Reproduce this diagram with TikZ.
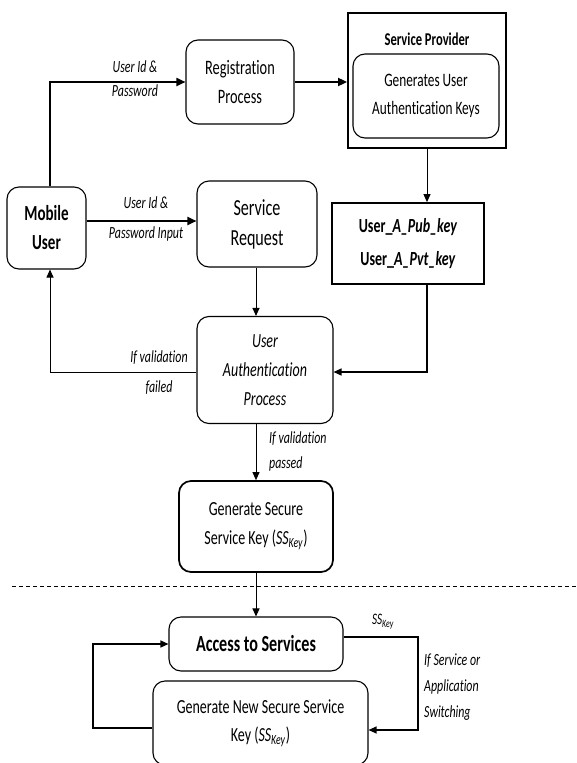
\documentclass[tikz,border=0pt]{standalone}
\usepackage{fontspec}
\setmainfont{Carlito}[FakeStretch=0.7, Ligatures=NoCommon]
\usetikzlibrary{arrows.meta}

\tikzset{
  box/.style={draw, rounded corners=12pt, line width=1.1pt, align=center, inner sep=0pt},
  sqbox/.style={draw, line width=1.8pt, align=center, inner sep=0pt},
  link/.style={line width=1pt, -{Triangle[length=8pt,width=7pt]}},
  thicklink/.style={line width=1.8pt, -{Triangle[length=9pt,width=8pt]}},
  lbl/.style={align=center, inner sep=0pt},
  divider/.style={line width=0.8pt, dash pattern=on 4pt off 3pt},
}
\newcommand{\fsz}[2]{\fontsize{#1}{#2}\selectfont}
\newcommand{\sskey}{\textit{SS}\textsubscript{\textit{Key}}}

\begin{document}
\begin{tikzpicture}[x=1pt,y=-1pt]
\useasboundingbox (0,0) rectangle (576,763);
\fill[white] (0,0) rectangle (576,763);
\clip (0,0) rectangle (576,763);

% boxes
\node[box, minimum width=108pt, minimum height=84pt, font=\fsz{20.5}{29}] (reg) at (240,82) {Registration\\Process};
\node[sqbox, minimum width=158pt, minimum height=135pt] (sp) at (427,80.5) {};
\node[font=\bfseries\fsz{18}{22}] (sptitle) at (427,39) {Service Provider};
\node[box, minimum width=146pt, minimum height=84pt, font=\fsz{19}{28}] (gen) at (426,96) {Generates User\\Authentication Keys};
\node[box, minimum width=79pt, minimum height=82pt, font=\bfseries\fsz{21.5}{29}] (mu) at (46.5,228) {Mobile\\User};
\node[box, minimum width=120pt, minimum height=86pt, font=\fsz{23}{30}] (sr) at (257,224) {Service\\Request};
\node[sqbox, minimum width=152pt, minimum height=81pt, font=\bfseries\fsz{20}{33}] (keys) at (408,243.5) {User\_\textit{A\_Pub\_key}\\User\_\textit{A\_Pvt\_key}};
\node[box, minimum width=136pt, minimum height=107pt, font=\itshape\fsz{20}{29}] (ua) at (265,370) {User\\Authentication\\Process};
\node[box, line width=1.7pt, minimum width=154pt, minimum height=91pt, font=\fsz{20}{29}] (gs) at (256,526.5) {Generate Secure\\Service Key (\sskey)};
\node[box, minimum width=174pt, minimum height=54pt, font=\bfseries\fsz{23}{28}] (acc) at (256,644) {Access to Services};
\node[box, minimum width=215pt, minimum height=84pt, font=\fsz{20}{28}] (gn) at (260.5,723) {Generate New Secure Service\\Key (\sskey)};

% helper coordinates for connector lanes
\coordinate (cx) at (256,0);
\coordinate (lx) at (50,0);
\coordinate (ya) at (0,221);
\coordinate (yk) at (0,372);
\coordinate (xr) at (418,0);
\coordinate (yr) at (0,637);
\coordinate (yg) at (0,730);
\coordinate (xl) at (93,0);
\coordinate (yl) at (0,728);
\coordinate (yb) at (0,644);

% connectors
\draw[thicklink] (mu.north -| lx) |- (reg.west);
\draw[thicklink] (reg.east) -- (reg.east -| sp.west);
\draw[link] (sp.south) -- (keys.north -| sp.south);
\draw[thicklink] (mu.east |- ya) -- (sr.west |- ya);
\draw[link] (sr.south -| cx) -- (ua.north -| cx);
\draw[link, line width=1.3pt] (keys.south -| sp.south) |- (ua.east |- yk);
\draw[link] (ua.west |- yk) -| (mu.south -| lx);
\draw[link] (ua.south -| cx) -- (gs.north -| cx);
\draw[link] (gs.south -| cx) -- (acc.north -| cx);
\draw[link, line width=1.2pt] (acc.east |- yr) -| (xr |- yg) -- (gn.east |- yg);
\draw[link, line width=1.2pt] (gn.west |- yl) -| (xl |- yb) -- (acc.west |- yb);

% section divider
\draw[divider] (12,586) -- (576,586);

% labels
\node[lbl, font=\itshape\fsz{17}{24}] (l1) at (135,79) {User Id \&\\Password};
\node[lbl, font=\itshape\fsz{17}{30}] (l2) at (146,219) {User Id \&\\Password Input};
\node[lbl, font=\itshape\fsz{17}{30}] (l3) at (159,373) {If validation\\failed};
\node[lbl, align=left, anchor=west, font=\itshape\fsz{17}{25}] (l4) at (269,451.5) {If validation\\passed};
\node[lbl, font=\fsz{16}{20}] (l5) at (383,622) {\sskey};
\node[lbl, align=left, anchor=west, font=\itshape\fsz{17}{26}] (l6) at (424,687) {If Service or\\Application\\Switching};
\end{tikzpicture}
\end{document}
